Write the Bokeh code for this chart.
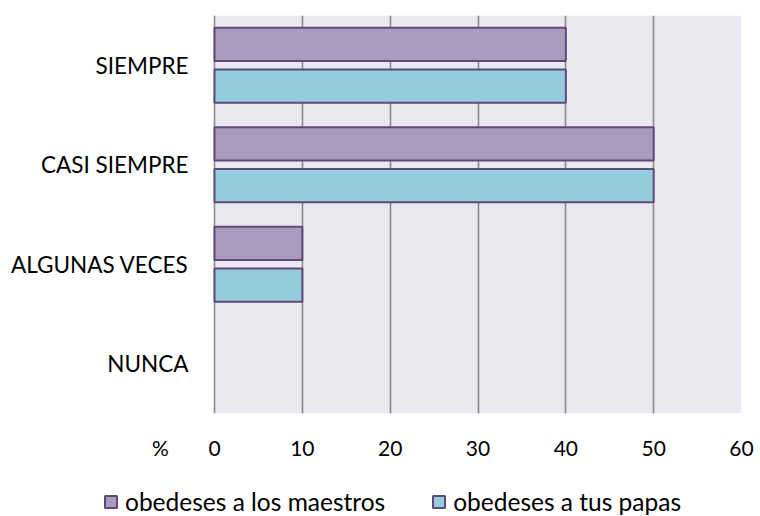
from bokeh.plotting import figure
from bokeh.layouts import column
from bokeh.models import (ColumnDataSource, FixedTicker, Legend, LegendItem,
                          BoxAnnotation, Range1d, FactorRange)
from bokeh.transform import dodge
from bokeh.embed import file_html
from bokeh.resources import INLINE

categories = ["SIEMPRE", "CASI SIEMPRE", "ALGUNAS VECES", "NUNCA"]
maestros = [40, 50, 10, 0]
papas = [40, 50, 10, 0]
series_names = ["obedeses a los maestros", "obedeses a tus papas"]
x_ticks = [0, 10, 20, 30, 40, 50, 60]
unit_label = "%"

FONT = "Lato"
OUTLINE = "#5F497A"
FILL_M = "#A99BBD"
FILL_P = "#93CDDD"
PX_PER_UNIT = 527 / 60.0
FRAME_LEFT = 103
W = 760
H1 = 466
H2 = 50

y_factors = list(reversed(categories))

src = ColumnDataSource(dict(
    cat=categories,
    maestros=maestros,
    papas=papas,
    lc_m=[OUTLINE if v > 0 else None for v in maestros],
    lc_p=[OUTLINE if v > 0 else None for v in papas],
))

# ---------------- main chart ----------------
p = figure(width=W, height=H1, y_range=y_factors,
           x_range=(-(214 - FRAME_LEFT) / PX_PER_UNIT, 60),
           output_backend="svg", toolbar_location=None,
           min_border_left=FRAME_LEFT, min_border_right=W - 741,
           min_border_top=15, min_border_bottom=H1 - 413)
p.outline_line_color = None
p.background_fill_color = "white"
p.border_fill_color = "white"

bg = BoxAnnotation(left=0, right=60, fill_color="#EBE9EF", fill_alpha=1,
                   line_color=None, level="image")
p.add_layout(bg)

p.hbar(y=dodge("cat", 0.21, range=p.y_range), left=0, right="maestros", height=0.335,
       source=src, fill_color=FILL_M, line_color="lc_m", line_width=2)
p.hbar(y=dodge("cat", -0.21, range=p.y_range), left=0, right="papas", height=0.335,
       source=src, fill_color=FILL_P, line_color="lc_p", line_width=2)

p.ygrid.grid_line_color = None
p.xgrid.grid_line_color = "#8A8A8A"
p.xgrid.grid_line_width = 1.6
p.xgrid.ticker = FixedTicker(ticks=x_ticks)

ya = p.yaxis[0]
ya.axis_line_color = None
ya.major_tick_line_color = None
ya.minor_tick_line_color = None
ya.major_tick_out = 0
ya.major_tick_in = 0
ya.major_label_standoff = -(188 - FRAME_LEFT)
ya.major_label_text_font = FONT
ya.major_label_text_font_size = "22.5px"
ya.major_label_text_color = "black"

pct_pos = -54 / PX_PER_UNIT
xa = p.xaxis[0]
xa.ticker = FixedTicker(ticks=[pct_pos] + x_ticks)
xa.major_label_overrides = {pct_pos: unit_label}
xa.axis_line_color = None
xa.major_tick_line_color = None
xa.minor_tick_line_color = None
xa.major_tick_out = 0
xa.major_tick_in = 0
xa.major_label_standoff = 21
xa.major_label_text_font = FONT
xa.major_label_text_font_size = "21px"
xa.major_label_text_color = "black"

# ---------------- legend strip ----------------
p2 = figure(width=W, height=H2, y_range=FactorRange(factors=y_factors),
            x_range=Range1d(0, 60),
            output_backend="svg", toolbar_location=None,
            x_axis_location=None, y_axis_location=None,
            min_border_left=FRAME_LEFT, min_border_right=W - 741,
            min_border_top=0, min_border_bottom=0)
p2.outline_line_color = None
p2.grid.visible = False
p2.background_fill_color = "white"

l1 = p2.hbar(y=dodge("cat", 0.21, range=p2.y_range), left=0, right="maestros", height=0.335,
             source=src, fill_color=FILL_M, line_color=OUTLINE, line_width=2)
l2 = p2.hbar(y=dodge("cat", -0.21, range=p2.y_range), left=0, right="papas", height=0.335,
             source=src, fill_color=FILL_P, line_color=OUTLINE, line_width=2)
l1.visible = False
l2.visible = False

legend = Legend(items=[LegendItem(label=series_names[0], renderers=[l1]),
                       LegendItem(label=series_names[1], renderers=[l2])],
                orientation="horizontal", location=(0, 0),
                glyph_width=15, glyph_height=15, label_standoff=7, spacing=46,
                padding=0, margin=0, border_line_color=None,
                background_fill_alpha=0, inactive_fill_alpha=0,
                click_policy="none",
                label_text_font=FONT, label_text_font_size="24.5px",
                label_text_color="black")
p2.add_layout(legend, "center")

layout = column(p, p2, spacing=0)
open("out.html", "w").write(file_html(layout, INLINE))
